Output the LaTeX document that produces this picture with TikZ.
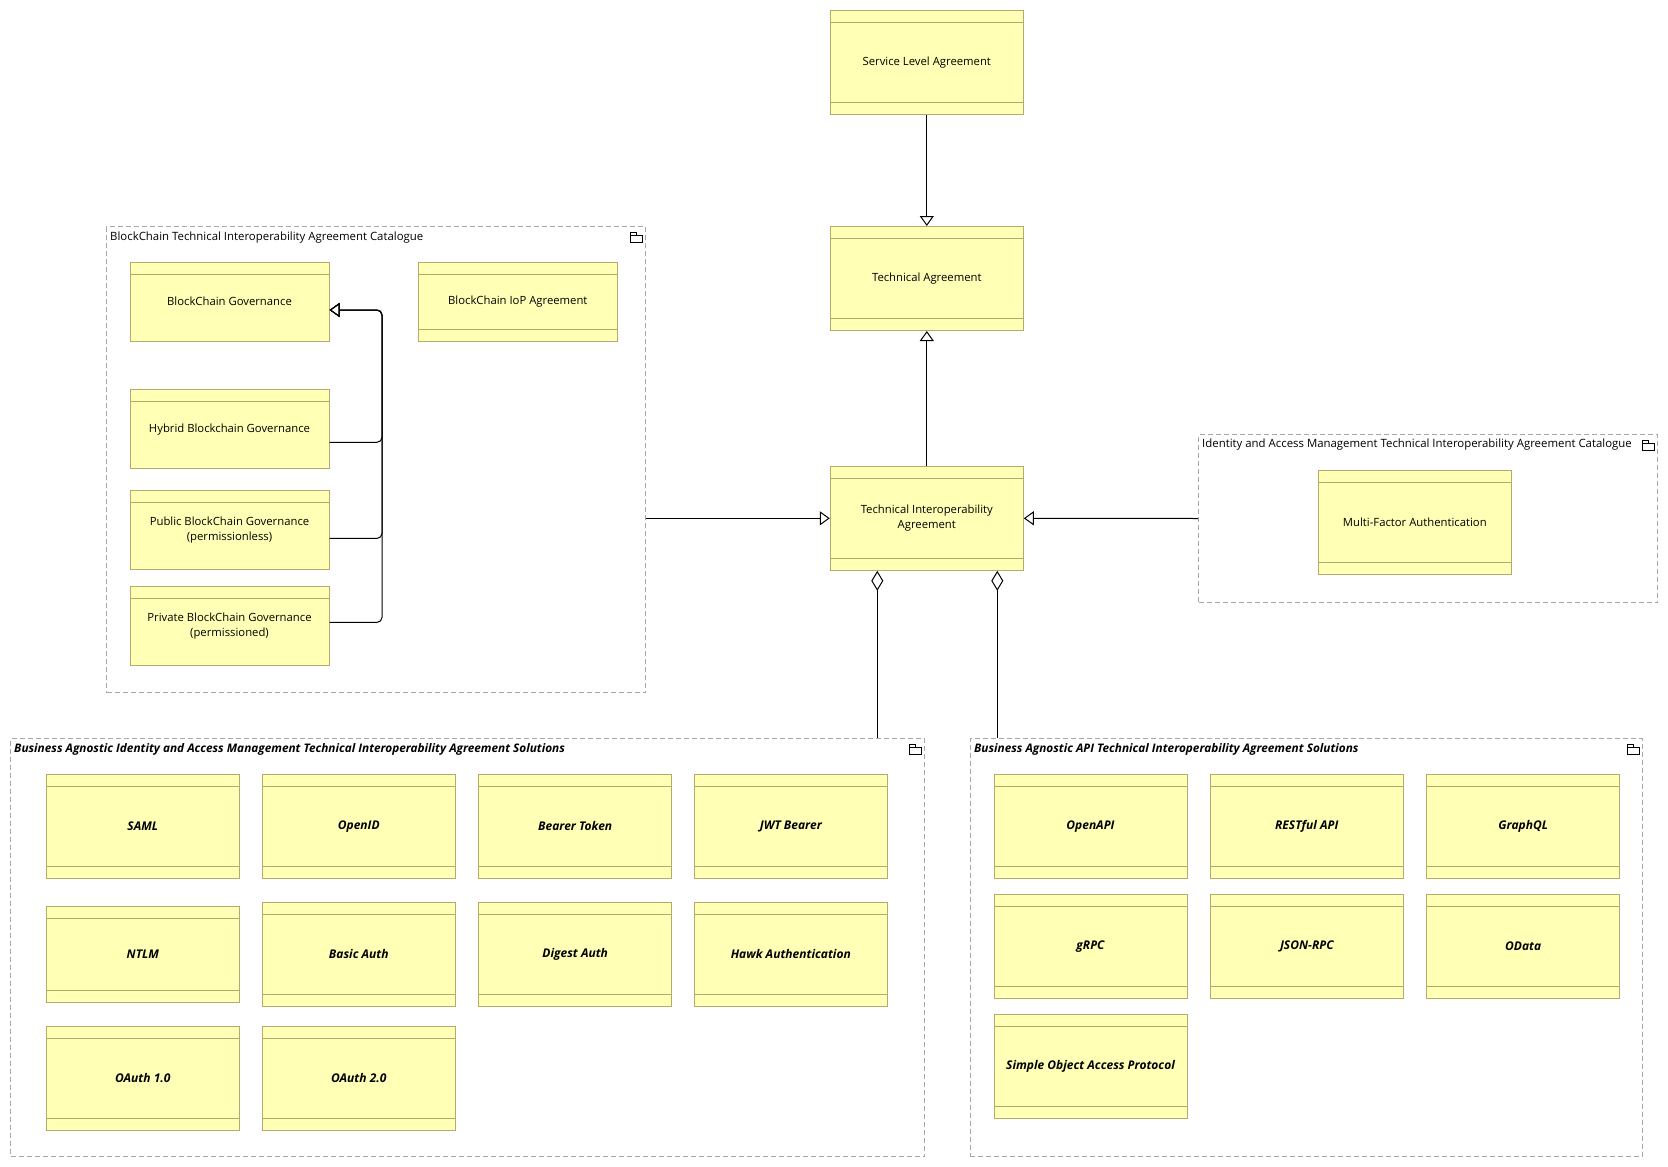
\documentclass[tikz,border=0pt]{standalone}
\usepackage{fontspec}
\setmainfont{Open Sans}
\usetikzlibrary{arrows.meta}

\definecolor{elemfill}{HTML}{FFFFB5}
\definecolor{elemline}{HTML}{B3AB6E}
\definecolor{grpline}{HTML}{A8A8A8}

\tikzset{
  elem/.style={draw=elemline, fill=elemfill, line width=1pt, minimum width=193pt,
    minimum height=104pt, inner sep=0pt, align=center, font=\fontsize{11.3}{15}\selectfont,
    path picture={\draw[elemline, line width=1pt]
      ([yshift=-12pt]path picture bounding box.north west) -- ([yshift=-12pt]path picture bounding box.north east)
      ([yshift=12pt]path picture bounding box.south west) -- ([yshift=12pt]path picture bounding box.south east);}},
  govelem/.style={elem, minimum width=199pt, minimum height=79pt,
    path picture={\draw[elemline, line width=1pt]
      ([yshift=-12pt]path picture bounding box.north west) -- ([yshift=-12pt]path picture bounding box.north east);}},
  solelem/.style={elem, font=\fontsize{12}{15}\selectfont\bfseries\itshape},
  grp/.style={draw=grpline, dash pattern=on 5pt off 3pt, line width=1pt, inner sep=0pt},
  grptitle/.style={anchor=north west, inner sep=1pt, font=\fontsize{11.4}{13}\selectfont},
  soltitle/.style={grptitle, font=\fontsize{11.8}{13}\selectfont\bfseries\itshape},
  spec/.style={line width=1pt, -{Triangle[open,length=10pt,width=14pt]}},
  aggr/.style={line width=1pt, {Diamond[open,length=20pt,width=12pt]}-},
  folder/.pic={
    \draw[line width=0.8pt] (-16,9) rectangle (-4,16);
    \draw[line width=0.8pt] (-16,9) -- (-16,6) -- (-10,6) -- (-10,9);
  }
}

\begin{document}
\begin{tikzpicture}[x=1pt, y=-1pt]
  \useasboundingbox (0,0) rectangle (1668,1167);

  % groups
  \node[grp, minimum width=539pt, minimum height=466pt] (bcgrp) at (376,459.7) {};
  \node[grp, minimum width=459pt, minimum height=168pt] (iamgrp) at (1428,518.5) {};
  \node[grp, minimum width=914pt, minimum height=418pt] (iamsol) at (467.5,947.5) {};
  \node[grp, minimum width=672pt, minimum height=418pt] (apisol) at (1306.4,947.5) {};
  \node[grptitle] at ([xshift=3pt,yshift=-4pt]bcgrp.north west) {BlockChain Technical Interoperability Agreement Catalogue};
  \node[grptitle] at ([xshift=3pt,yshift=-4pt]iamgrp.north west) {Identity and Access Management Technical Interoperability Agreement Catalogue};
  \node[soltitle] at ([xshift=3pt,yshift=-4pt]iamsol.north west) {Business Agnostic Identity and Access Management Technical Interoperability Agreement Solutions};
  \node[soltitle] at ([xshift=3pt,yshift=-4pt]apisol.north west) {Business Agnostic API Technical Interoperability Agreement Solutions};
  \pic at (bcgrp.north east) {folder};
  \pic at (iamgrp.north east) {folder};
  \pic at (iamsol.north east) {folder};
  \pic at (apisol.north east) {folder};

  % agreements
  \node[elem] (sla) at (926.8,62.5) {Service Level Agreement};
  \node[elem] (ta) at (926.8,278.5) {Technical Agreement};
  \node[elem] (tia) at (926.8,518.3) {Technical Interoperability\\Agreement};
  \node[elem] (mfa) at (1414.8,522.5) {Multi-Factor Authentication};

  % blockchain catalogue
  \node[govelem] (bcgov) at (229.5,301.7) {BlockChain Governance};
  \node[elem, minimum width=199pt, minimum height=79pt] (bciop) at (517.8,301.7) {BlockChain IoP Agreement};
  \node[govelem] (hybrid) at (229.5,429.3) {Hybrid Blockchain Governance};
  \node[govelem] (public) at (229.5,529.9) {Public BlockChain Governance\\(permissionless)};
  \node[govelem] (private) at (229.5,625.9) {Private BlockChain Governance\\(permissioned)};

  % identity and access management solutions
  \node[solelem] (saml) at (142.8,826.3) {SAML};
  \node[solelem] (openid) at (358.8,826.3) {OpenID};
  \node[solelem] (bearer) at (575.2,826.3) {Bearer Token};
  \node[solelem] (jwt) at (790.8,826.3) {JWT Bearer};
  \node[solelem, minimum height=96pt] (ntlm) at (142.8,954.3) {NTLM};
  \node[solelem] (basic) at (358.8,954.3) {Basic Auth};
  \node[solelem] (digest) at (575.2,954.3) {Digest Auth};
  \node[solelem] (hawk) at (790.8,954.3) {Hawk Authentication};
  \node[solelem] (oauthA) at (142.8,1078.3) {OAuth 1.0};
  \node[solelem] (oauthB) at (358.8,1078.3) {OAuth 2.0};

  % api solutions
  \node[solelem] (openapi) at (1090.5,826.3) {OpenAPI};
  \node[solelem] (rest) at (1306.8,826.3) {RESTful API};
  \node[solelem] (graphql) at (1523.2,826.3) {GraphQL};
  \node[solelem] (grpc) at (1090.5,946.3) {gRPC};
  \node[solelem] (jsonrpc) at (1306.8,946.3) {JSON-RPC};
  \node[solelem] (odata) at (1523.2,946.3) {OData};
  \node[solelem] (soap) at (1090.5,1066.3) {Simple Object Access Protocol};

  % connectors
  \draw[spec] (sla.south) -- (ta.north);
  \draw[spec] (tia.north) -- (ta.south);
  \draw[spec] (bcgrp.east |- tia.west) -- (tia.west);
  \draw[spec] (iamgrp.west) -- (tia.east);

  \coordinate (bus) at (382,310);
  \draw[spec, rounded corners=5pt] ([yshift=-13pt]hybrid.east) -| (bus) -- ([yshift=-8.3pt]bcgov.east);
  \draw[spec, rounded corners=5pt] ([yshift=-8.5pt]public.east) -| (bus) -- ([yshift=-8.3pt]bcgov.east);
  \draw[spec, rounded corners=5pt] ([yshift=3.5pt]private.east) -| (bus) -- ([yshift=-8.3pt]bcgov.east);

  \coordinate (aggl) at ([xshift=-49.5pt]tia.south);
  \coordinate (aggr) at ([xshift=70.5pt]tia.south);
  \draw[aggr] (aggl) -- (aggl |- iamsol.north);
  \draw[aggr] (aggr) -- (aggr |- apisol.north);
\end{tikzpicture}
\end{document}
